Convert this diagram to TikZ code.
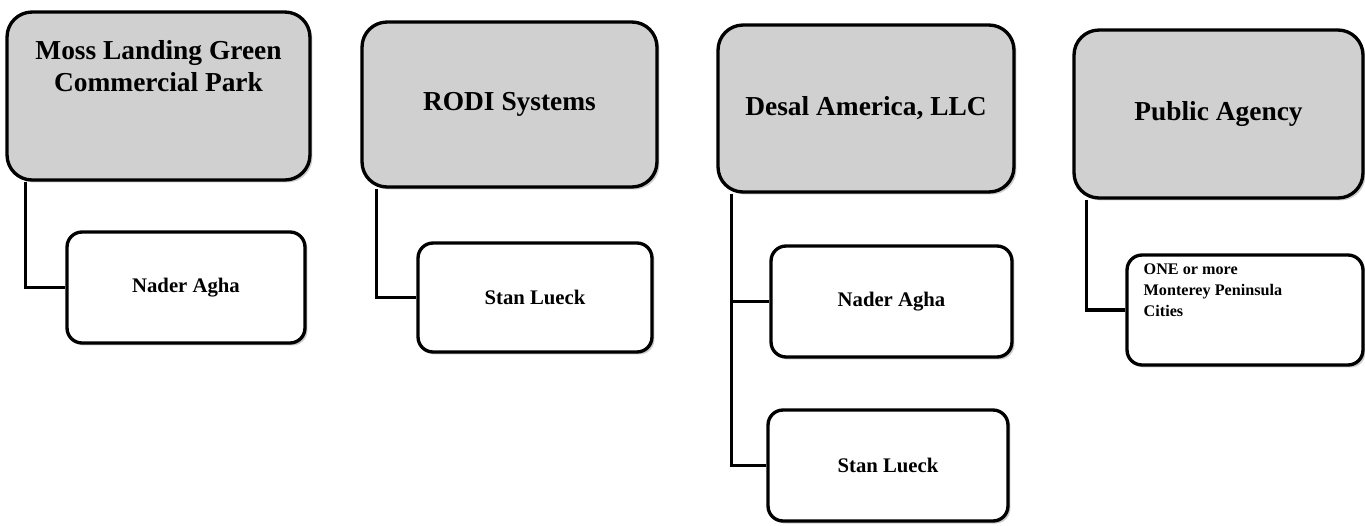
\documentclass[tikz,border=0pt]{standalone}
\usepackage{fontspec}
\setmainfont{Liberation Serif}
\usepackage{tikz}
\usetikzlibrary{positioning,shadows}
\definecolor{boxgray}{HTML}{D0D0D0}
\definecolor{shadowgray}{HTML}{9A9A9A}

\tikzset{
  orgname/.style={align=center, inner sep=0pt, font=\bfseries\fontsize{15.6}{18.2}\selectfont},
  orgbox/.style={orgname, draw, line width=1.9pt, rounded corners=0.5cm, fill=boxgray,
    drop shadow={shadow xshift=0.05cm, shadow yshift=-0.05cm, fill=shadowgray}},
  staffbox/.style={draw, line width=1.9pt, rounded corners=0.3cm, fill=white, inner sep=0pt,
    drop shadow={shadow xshift=0.05cm, shadow yshift=-0.05cm, fill=shadowgray},
    font=\bfseries\fontsize{11.8}{14}\selectfont},
  citytext/.style={align=left, inner sep=0pt, font=\bfseries\fontsize{9.2}{12}\selectfont},
  link/.style={line width=1.9pt}
}

\begin{document}
\begin{tikzpicture}[x=0.02cm,y=-0.02cm]
  \useasboundingbox (0,0) rectangle (1365,525);

  \node[orgbox, minimum width=6.06cm, minimum height=3.36cm] (moss) at (158.5,96) {};
  \node[orgname, anchor=north] (mossname) at ([yshift=-0.6cm]moss.north) {Moss Landing Green\\Commercial Park};
  \node[orgbox, minimum width=5.9cm, minimum height=3.3cm] (rodi) at (509.5,104.5) {RODI Systems};
  \node[orgbox, minimum width=5.92cm, minimum height=3.34cm] (desal) at (866,108.5) {Desal America, LLC};
  \node[orgbox, minimum width=5.78cm, minimum height=3.36cm] (agency) at (1218.5,114) {Public Agency};

  \node[staffbox, minimum width=4.76cm, minimum height=2.22cm] (mossagha) at (186,287.5) {Nader Agha};
  \node[staffbox, minimum width=4.68cm, minimum height=2.18cm] (rodilueck) at (535,297.5) {Stan Lueck};
  \node[staffbox, minimum width=4.82cm, minimum height=2.22cm] (desalagha) at (891.5,301.5) {Nader Agha};
  \node[staffbox, minimum width=4.8cm, minimum height=2.22cm] (desallueck) at (888,465.5) {Stan Lueck};
  \node[staffbox, minimum width=4.72cm, minimum height=2.2cm] (cities) at (1245,310) {};
  \node[citytext, anchor=north west] (citiesname) at ([xshift=0.36cm,yshift=-0.2cm]cities.north west) {ONE or more\\Monterey Peninsula\\Cities};

  \draw[link] ([xshift=0.4cm]moss.south west) |- (mossagha.west);
  \draw[link] ([xshift=0.32cm]rodi.south west) |- (rodilueck.west);
  \draw[link] ([xshift=0.3cm]desal.south west) |- (desalagha.west);
  \draw[link] ([xshift=0.3cm]desal.south west) |- (desallueck.west);
  \draw[link] ([xshift=0.28cm]agency.south west) |- (cities.west);
\end{tikzpicture}
\end{document}
